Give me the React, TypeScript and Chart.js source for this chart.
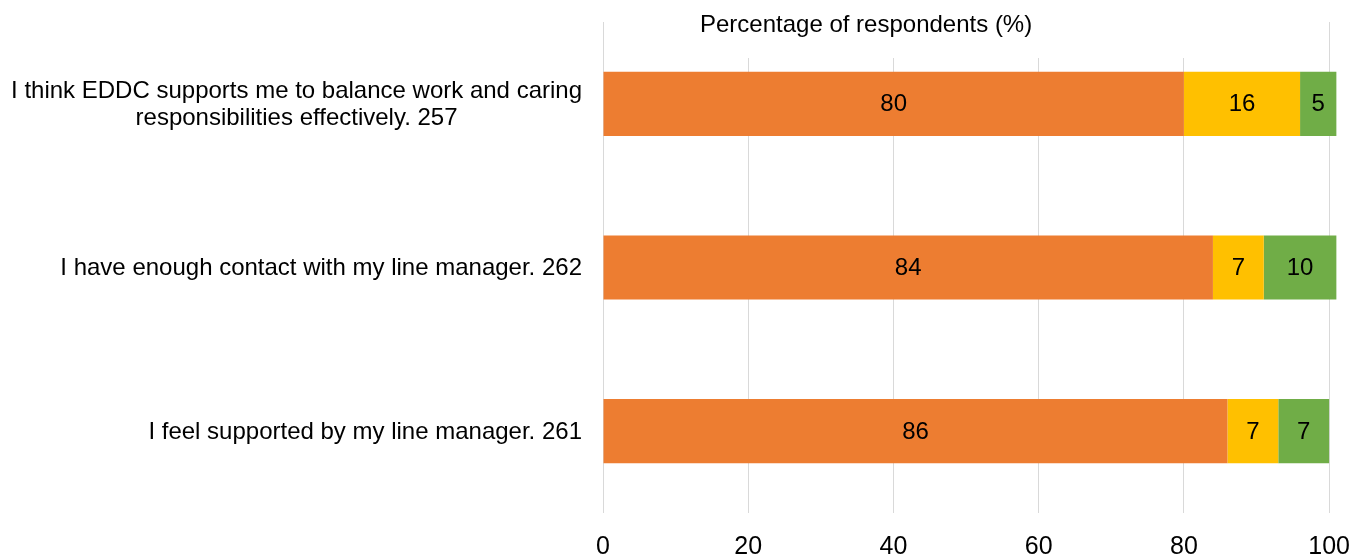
import React, { useEffect, useRef } from "react";
import { Chart, registerables } from "chart.js";

Chart.register(...registerables);

const categories: (string | string[])[] = [
  ["I think EDDC supports me to balance work and caring", "responsibilities effectively. 257"],
  "I have enough contact with my line manager. 262",
  "I feel supported by my line manager. 261",
];
const agreeValues = [80, 84, 86];
const neutralValues = [16, 7, 7];
const disagreeValues = [5, 10, 7];
const xTicks = [0, 20, 40, 60, 80, 100];
const titleText = "Percentage of respondents (%)";

const FONT = "'Liberation Sans', Arial, sans-serif";

const labelPlugin = {
  id: "barLabels",
  afterDatasetsDraw(chart: any) {
    const ctx = chart.ctx;
    ctx.save();
    ctx.font = `24px ${FONT}`;
    ctx.fillStyle = "#000000";
    ctx.textAlign = "center";
    ctx.textBaseline = "middle";
    chart.data.datasets.forEach((ds: any, di: number) => {
      const meta = chart.getDatasetMeta(di);
      meta.data.forEach((el: any, i: number) => {
        const p = el.getCenterPoint();
        ctx.fillText(String(ds.data[i]), p.x, p.y + 1);
      });
    });
    ctx.restore();
  },
  afterDraw(chart: any) {
    const ctx = chart.ctx;
    const a = chart.chartArea;
    ctx.save();
    ctx.fillStyle = "#ffffff";
    ctx.fillRect(a.left + 3, a.top - 2, a.right - a.left - 17, 38);
    ctx.font = `24px ${FONT}`;
    ctx.fillStyle = "#000000";
    ctx.textAlign = "center";
    ctx.textBaseline = "alphabetic";
    ctx.fillText(titleText, a.left + (a.right - a.left) * 0.357, 32);

    // category labels: block right-aligned, lines centred within block
    const yScale = chart.scales.y;
    const right = a.left - 21;
    const lh = 27;
    ctx.textBaseline = "middle";
    (chart.data.labels as any[]).forEach((lab: any, i: number) => {
      const lines: string[] = Array.isArray(lab) ? lab : [lab];
      const w = Math.max(...lines.map((l) => ctx.measureText(l).width));
      const cx = right - w / 2;
      const cy = yScale.getPixelForTick(i) + 1;
      const y0 = cy - ((lines.length - 1) * lh) / 2;
      lines.forEach((l, k) => ctx.fillText(l, cx, y0 + k * lh));
    });
    ctx.restore();
  },
};

export default function App() {
  const ref = useRef<HTMLCanvasElement | null>(null);
  useEffect(() => {
    if (!ref.current) return;
    const chart = new Chart(ref.current, {
      type: "bar",
      data: {
        labels: categories as any,
        datasets: [
          { label: "Agree", data: agreeValues, backgroundColor: "#ED7D31", barPercentage: 0.392, categoryPercentage: 1 },
          { label: "Neither", data: neutralValues, backgroundColor: "#FFC000", barPercentage: 0.392, categoryPercentage: 1 },
          { label: "Disagree", data: disagreeValues, backgroundColor: "#70AD47", barPercentage: 0.392, categoryPercentage: 1 },
        ],
      },
      options: {
        indexAxis: "y",
        animation: false,
        responsive: false,
        layout: { padding: { left: 0, right: 24, top: 22, bottom: 0 } },
        plugins: { legend: { display: false }, title: { display: false }, tooltip: { enabled: false } },
        scales: {
          x: {
            stacked: true,
            min: 0,
            max: 101.5,
            afterBuildTicks: (scale: any) => {
              scale.ticks = xTicks.map((v) => ({ value: v }));
            },
            afterFit: (scale: any) => {
              scale.height = 41;
              scale.paddingLeft = 0;
              scale.paddingRight = 0;
            },
            ticks: {
              includeBounds: false,
              font: { family: FONT, size: 25 },
              color: "#000000",
              padding: 19,
              maxRotation: 0,
            },
            grid: { color: "#d9d9d9", lineWidth: 1, drawTicks: false },
            border: { display: false },
          },
          y: {
            stacked: true,
            afterFit: (scale: any) => {
              scale.width = 603;
              scale.paddingTop = 0;
              scale.paddingBottom = 0;
            },
            ticks: { display: false },
            grid: { display: false, drawTicks: false },
            border: { display: false },
          },
        },
      },
      plugins: [labelPlugin],
    });
    return () => chart.destroy();
  }, []);
  return (
    <div style={{ position: "absolute", left: 0, top: 0, width: 1364, height: 554, background: "#fff" }}>
      <canvas ref={ref} width={1364} height={554} style={{ display: "block" }} />
    </div>
  );
}
